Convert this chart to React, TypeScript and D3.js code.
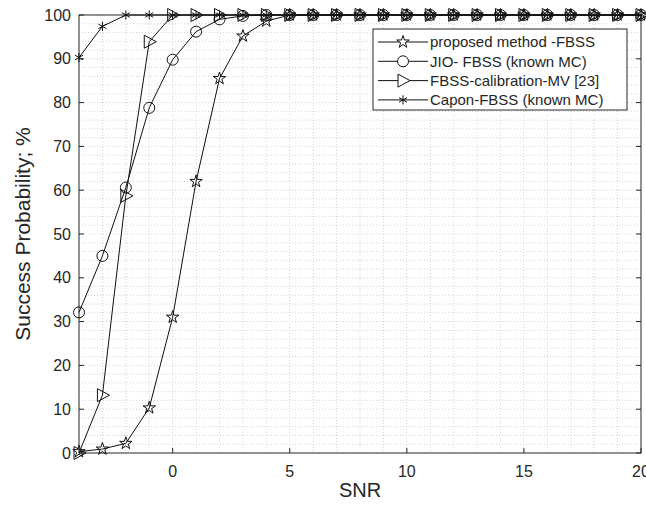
import React, { useEffect, useRef } from "react";
import * as d3 from "d3";

// SNR values (dB)
const snr = [-4, -3, -2, -1, 0, 1, 2, 3, 4, 5, 6, 7, 8, 9, 10, 11, 12, 13, 14, 15, 16, 17, 18, 19, 20];

const proposed = [0.3, 0.9, 2.2, 10.3, 31, 62, 85.5, 95.2, 98.6, 100, 100, 100, 100, 100, 100, 100, 100, 100, 100, 100, 100, 100, 100, 100, 100];
const jio = [32.1, 45, 60.6, 78.8, 89.8, 96.2, 99, 99.8, 100, 100, 100, 100, 100, 100, 100, 100, 100, 100, 100, 100, 100, 100, 100, 100, 100];
const calib = [0, 13.2, 58.7, 93.9, 100, 100, 100, 100, 100, 100, 100, 100, 100, 100, 100, 100, 100, 100, 100, 100, 100, 100, 100, 100, 100];
const capon = [90.3, 97.4, 100, 100, 100, 100, 100, 100, 100, 100, 100, 100, 100, 100, 100, 100, 100, 100, 100, 100, 100, 100, 100, 100, 100];

const seriesNames = [
  "proposed method -FBSS",
  "JIO- FBSS (known MC)",
  "FBSS-calibration-MV [23]",
  "Capon-FBSS (known MC)",
];
const xTicks = [0, 5, 10, 15, 20];
const yTicks = [0, 10, 20, 30, 40, 50, 60, 70, 80, 90, 100];

const FONT = "'Liberation Sans', Arial, Helvetica, sans-serif";

// marker path generators, centred on 0,0
const markerPath = (kind: string) => {
  if (kind === "star") return d3.symbol(d3.symbolStar, 48)();
  if (kind === "circle") return d3.symbol(d3.symbolCircle, 95)();
  if (kind === "asterisk") return d3.symbol(d3.symbolAsterisk, 60)();
  // right-pointing triangle
  return "M-5,-6.5L7,0L-5,6.5Z";
};

const App = () => {
  const svgRef = useRef<SVGSVGElement>(null);

  useEffect(() => {
    const width = 646;
    const height = 505;
    const margin = { top: 15, right: 5, bottom: 52, left: 79 };
    const iw = width - margin.left - margin.right;
    const ih = height - margin.top - margin.bottom;

    d3.select(svgRef.current).selectAll("*").remove();

    const svg = d3
      .select(svgRef.current)
      .attr("width", width)
      .attr("height", height);

    svg.append("rect").attr("width", width).attr("height", height).attr("fill", "#fff");

    const g = svg.append("g").attr("transform", `translate(${margin.left},${margin.top})`);

    const x = d3.scaleLinear().domain([-4, 20]).range([0, iw]);
    const y = d3.scaleLinear().domain([0, 100]).range([ih, 0]);

    // minor grid
    const minorX = d3.range(-3, 20, 1);
    const minorY = d3.range(2, 100, 2);
    g.append("g")
      .selectAll("line")
      .data(minorX)
      .join("line")
      .attr("x1", (d) => x(d))
      .attr("x2", (d) => x(d))
      .attr("y1", 0)
      .attr("y2", ih)
      .attr("stroke", "#c8c8c8")
      .attr("stroke-width", 0.8)
      .attr("stroke-dasharray", "1,2");
    g.append("g")
      .selectAll("line")
      .data(minorY)
      .join("line")
      .attr("x1", 0)
      .attr("x2", iw)
      .attr("y1", (d) => y(d))
      .attr("y2", (d) => y(d))
      .attr("stroke", "#c8c8c8")
      .attr("stroke-width", 0.8)
      .attr("stroke-dasharray", "1,2");

    // axis box
    g.append("rect")
      .attr("width", iw)
      .attr("height", ih)
      .attr("fill", "none")
      .attr("stroke", "#262626")
      .attr("stroke-width", 1);

    // ticks (inside, mirrored)
    const tl = 5;
    xTicks.forEach((t) => {
      g.append("line").attr("x1", x(t)).attr("x2", x(t)).attr("y1", ih).attr("y2", ih - tl).attr("stroke", "#262626");
      g.append("line").attr("x1", x(t)).attr("x2", x(t)).attr("y1", 0).attr("y2", tl).attr("stroke", "#262626");
      g.append("text")
        .attr("x", x(t))
        .attr("y", ih + 24)
        .attr("text-anchor", "middle")
        .attr("font-family", FONT)
        .attr("font-size", 16)
        .attr("fill", "#262626")
        .text(t);
    });
    yTicks.forEach((t) => {
      g.append("line").attr("x1", 0).attr("x2", tl).attr("y1", y(t)).attr("y2", y(t)).attr("stroke", "#262626");
      g.append("line").attr("x1", iw).attr("x2", iw - tl).attr("y1", y(t)).attr("y2", y(t)).attr("stroke", "#262626");
      g.append("text")
        .attr("x", -8)
        .attr("y", y(t))
        .attr("dy", "0.35em")
        .attr("text-anchor", "end")
        .attr("font-family", FONT)
        .attr("font-size", 16)
        .attr("fill", "#262626")
        .text(t);
    });

    // axis labels
    svg
      .append("text")
      .attr("x", margin.left + iw / 2)
      .attr("y", 497)
      .attr("text-anchor", "middle")
      .attr("font-family", FONT)
      .attr("font-size", 20)
      .attr("fill", "#262626")
      .text("SNR");
    svg
      .append("text")
      .attr("transform", `translate(30,${margin.top + ih / 2}) rotate(-90)`)
      .attr("text-anchor", "middle")
      .attr("font-family", FONT)
      .attr("font-size", 21)
      .attr("fill", "#262626")
      .text("Success Probability; %");

    // series
    const series = [
      { values: proposed, marker: "star" },
      { values: jio, marker: "circle" },
      { values: calib, marker: "triangle" },
      { values: capon, marker: "asterisk" },
    ];
    const line = d3
      .line<number>()
      .x((_, i) => x(snr[i]))
      .y((d) => y(d));

    series.forEach((s) => {
      g.append("path")
        .datum(s.values)
        .attr("fill", "none")
        .attr("stroke", "#111")
        .attr("stroke-width", 1)
        .attr("d", line);
      g.append("g")
        .selectAll("path")
        .data(s.values)
        .join("path")
        .attr("transform", (d, i) => `translate(${x(snr[i])},${y(d)})`)
        .attr("d", markerPath(s.marker))
        .attr("fill", "none")
        .attr("stroke", "#111")
        .attr("stroke-width", 1);
    });

    // legend
    const lg = svg.append("g").attr("transform", "translate(373,29)");
    lg.append("rect")
      .attr("width", 254)
      .attr("height", 81)
      .attr("fill", "#fff")
      .attr("stroke", "#262626")
      .attr("stroke-width", 1);
    seriesNames.forEach((name, i) => {
      const cy = 13 + i * 19.3;
      lg.append("line").attr("x1", 5).attr("x2", 55).attr("y1", cy).attr("y2", cy).attr("stroke", "#111");
      lg.append("path")
        .attr("transform", `translate(30,${cy})`)
        .attr("d", markerPath(series[i].marker))
        .attr("fill", "#fff")
        .attr("stroke", "#111");
      lg.append("text")
        .attr("x", 57)
        .attr("y", cy)
        .attr("dy", "0.35em")
        .attr("font-family", FONT)
        .attr("font-size", 15)
        .attr("fill", "#262626")
        .text(name);
    });
  }, []);

  return <svg ref={svgRef} style={{ position: "absolute", left: 0, top: 0 }}></svg>;
};

export default App;
